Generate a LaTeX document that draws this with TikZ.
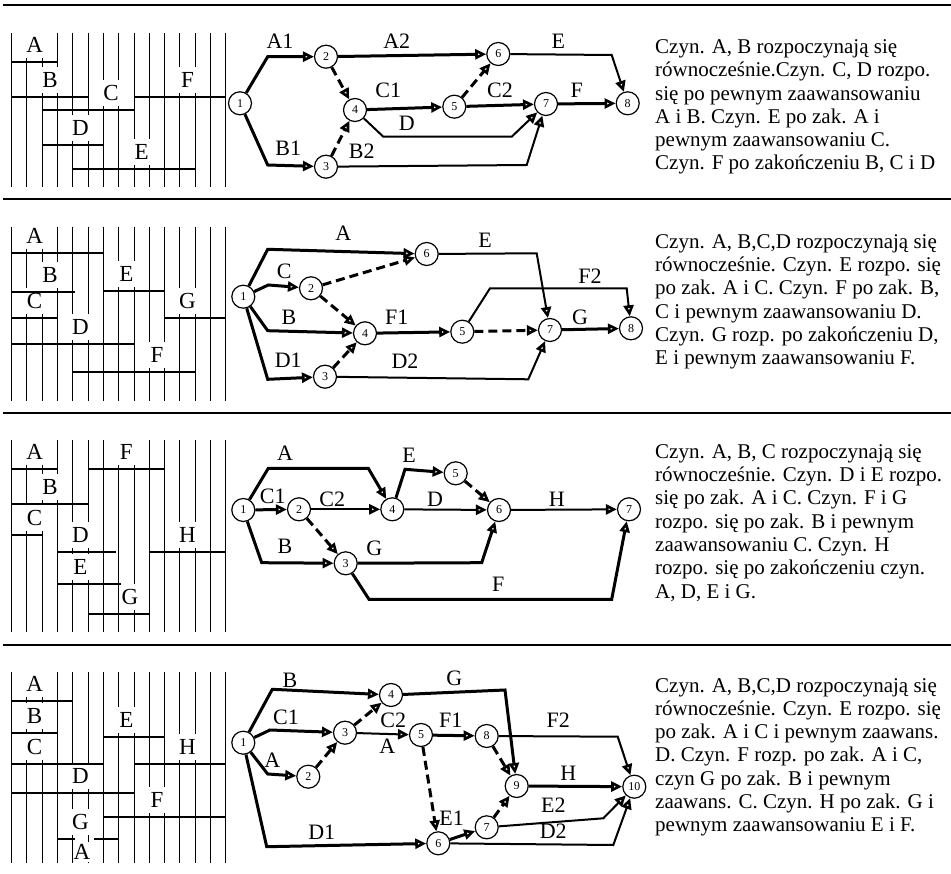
\documentclass[tikz,border=0pt]{standalone}
\usepackage{fontspec}
\setmainfont{Liberation Serif}
\usetikzlibrary{arrows.meta}
\begin{document}
\begin{tikzpicture}[x=1pt,y=-1pt,
 nd/.style={circle,draw,line width=1.2pt,fill=white,minimum size=23pt,inner sep=0pt,font=\fontsize{12}{12}\selectfont},
 lb/.style={font=\fontsize{22}{22}\selectfont,inner sep=0pt},
 gl/.style={fill=white,inner sep=0pt,minimum width=19pt,minimum height=26pt,font=\fontsize{23}{23}\selectfont},
 tip/.style={-{Triangle[open,length=11pt,width=10pt,line width=2.6pt]}},
 thk/.style={line width=3pt,tip},
 thn/.style={line width=2pt,tip},
 dsh/.style={thk,dash pattern=on 9pt off 5pt},
 bar/.style={line width=1.9pt},
 vl/.style={line width=1pt},
 txt/.style={font=\fontsize{21}{23.3}\selectfont,anchor=base west,inner sep=0pt}
]
\useasboundingbox[fill=white] (0,0) rectangle (951,874);

% separators
\draw[line width=2.7pt] (3,5) -- (951,5);
\draw[line width=2pt] (3,199) -- (951,199);
\draw[line width=2pt] (3,413.5) -- (951,413.5);
\draw[line width=2pt] (3,645) -- (951,645);

% ---------- grids: vertical lines ----------
\foreach \i in {0,...,14}{
  \draw[vl] ({11.7+15.29*\i},33) -- ({11.7+15.29*\i},187);
  \draw[vl] ({11.7+15.29*\i},226.7) -- ({11.7+15.29*\i},401);
  \draw[vl] ({11.7+15.29*\i},440) -- ({11.7+15.29*\i},632);
  \draw[vl] ({11.7+15.29*\i},671.7) -- ({11.7+15.29*\i},863.3);
}

% ---------- grid labels ----------
% panel 1
\node[gl] (g1A) at (34.64,44.7) {A};
\node[gl] (g1B) at (49.93,79.7) {B};
\node[gl] (g1C) at (111.09,93) {C};
\node[gl] (g1F) at (187.54,79.7) {F};
\node[gl] (g1D) at (80.51,128) {D};
\node[gl] (g1E) at (141.67,152.3) {E};
% panel 2
\node[gl] (g2A) at (34.64,236.3) {A};
\node[gl] (g2B) at (49.93,274.7) {B};
\node[gl] (g2E) at (126.38,274) {E};
\node[gl] (g2C) at (34.64,301.3) {C};
\node[gl] (g2G) at (187.54,301.3) {G};
\node[gl] (g2D) at (80.51,327) {D};
\node[gl] (g2F) at (156.96,354.7) {F};
% panel 3
\node[gl] (g3A) at (34.64,452) {A};
\node[gl] (g3F) at (126.38,452) {F};
\node[gl] (g3B) at (49.93,487) {B};
\node[gl] (g3C) at (34.64,518) {C};
\node[gl] (g3D) at (80.51,534.7) {D};
\node[gl] (g3H) at (187.54,534.7) {H};
\node[gl] (g3E) at (80.51,567.3) {E};
\node[gl] (g3G) at (130,597) {G};
% panel 4
\node[gl] (g4A) at (34.64,683.7) {A};
\node[gl] (g4B) at (34.64,716.3) {B};
\node[gl] (g4C) at (34.64,747) {C};
\node[gl] (g4E) at (126.38,719.7) {E};
\node[gl] (g4H) at (187.54,747) {H};
\node[gl] (g4D) at (80.51,775.7) {D};
\node[gl] (g4F) at (156.96,799.7) {F};
\node[gl] (g4G) at (80.51,822) {G};
\node[gl,minimum height=20pt,minimum width=17pt] (g4A2) at (82,851.5) {A};

% ---------- grid bars ----------
% panel 1
\draw[bar] (11.7,61.7) -- (57.57,61.7);
\draw[bar] (11.7,96.7) -- (88.15,96.7);
\draw[bar] (42.28,110) -- (134.02,110);
\draw[bar] (134.02,96.7) -- (225.76,96.7);
\draw[bar] (42.28,145) -- (103.44,145);
\draw[bar] (72.86,169.3) -- (195.18,169.3);
% panel 2
\draw[bar] (11.7,253.3) -- (103.44,253.3);
\draw[bar] (11.7,291.7) -- (75,291.7);
\draw[bar] (103.44,291) -- (164.6,291);
\draw[bar] (11.7,318.3) -- (57.57,318.3);
\draw[bar] (164.6,318.3) -- (225.76,318.3);
\draw[bar] (11.7,344) -- (134.02,344);
\draw[bar] (72.86,371.7) -- (195.18,371.7);
% panel 3
\draw[bar] (11.7,469) -- (57.57,469);
\draw[bar] (88.15,469) -- (164.6,469);
\draw[bar] (11.7,504) -- (88.15,504);
\draw[bar] (11.7,535) -- (43,535);
\draw[bar] (57.57,551.7) -- (116,551.7);
\draw[bar] (149.3,551.7) -- (225.76,551.7);
\draw[bar] (57.57,584.3) -- (120.7,584.3);
\draw[bar] (88.15,614) -- (149.3,614);
% panel 4
\draw[bar] (11.7,700.7) -- (72.86,700.7);
\draw[bar] (11.7,733.3) -- (57.57,733.3);
\draw[bar] (11.7,764) -- (103.44,764);
\draw[bar] (103.44,736.7) -- (164.6,736.7);
\draw[bar] (134.02,764) -- (225.76,764);
\draw[bar] (11.7,792.7) -- (134.02,792.7);
\draw[bar] (103.44,816.7) -- (225.76,816.7);
\draw[bar] (57.57,839) -- (75,839);
\draw[bar] (94,839) -- (117.7,839);

% ---------- network 1 ----------
\node[nd] (a1) at (240,103.3) {1};
\node[nd] (a2) at (326,56.7) {2};
\node[nd] (a3) at (326,166.7) {3};
\node[nd] (a4) at (355,110) {4};
\node[nd] (a5) at (454.3,106.7) {5};
\node[nd] (a6) at (498.3,54) {6};
\node[nd] (a7) at (546,104) {7};
\node[nd] (a8) at (627.7,103.3) {8};
\draw[thk] (a1) -- (267.7,56.7) -- (a2);
\draw[thk] (a1) -- (267.7,165) -- (a3);
\draw[thk] (a2) -- (a6);
\draw[dsh] (a2) -- (a4);
\draw[dsh] (a3) -- (a4);
\draw[thk] (a4) -- (a5);
\draw[dsh] (a5) -- (a6);
\draw[thk] (a5) -- (a7);
\draw[thn] (a4) -- (383.3,136.7) -- (511.7,136.7) -- (a7);
\draw[thn] (a3) -- (526.7,165) -- (a7);
\draw[thn] (a6) -- (611.7,55) -- (a8);
\draw[thk] (a7) -- (a8);
\node[lb] (la1) at (280,41.7) {A1};
\node[lb] (lb1) at (288.3,148.3) {B1};
\node[lb] (la2) at (396.7,41.7) {A2};
\node[lb] (lb2) at (361.7,151.7) {B2};
\node[lb] (lc1) at (388.3,90) {C1};
\node[lb] (lc2) at (500,90) {C2};
\node[lb] (ld) at (406.7,123.3) {D};
\node[lb] (le) at (558.3,41.7) {E};
\node[lb] (lf) at (576.7,90) {F};

% ---------- network 2 ----------
\node[nd] (b1) at (243.3,296.7) {1};
\node[nd] (b2) at (311,288.3) {2};
\node[nd] (b3) at (325,376.7) {3};
\node[nd] (b4) at (365,333.3) {4};
\node[nd] (b5) at (462.3,331.7) {5};
\node[nd] (b6) at (426.7,254) {6};
\node[nd] (b7) at (550,330) {7};
\node[nd] (b8) at (631,328.3) {8};
\draw[thk] (b1) -- (267.7,249.3) -- (b6);
\draw[thk] (b1) -- (268.3,285) -- (b2);
\draw[thk] (b1) -- (267.7,330.7) -- (b4);
\draw[thk] (b1) -- (267.7,379.3) -- (b3);
\draw[dsh] (b2) -- (b6);
\draw[dsh] (b2) -- (b4);
\draw[dsh] (b3) -- (b4);
\draw[thk] (b4) -- (b5);
\draw[dsh] (b5) -- (b7);
\draw[thn] (b5) -- (490,288.3) -- (626.7,288.3) -- (b8);
\draw[thn] (b6) -- (536.7,253.3) -- (b7);
\draw[thn] (b3) -- (528.3,379.3) -- (b7);
\draw[thk] (b7) -- (b8);
\node[lb] (mA) at (343.3,233.3) {A};
\node[lb] (mC) at (284.3,271.7) {C};
\node[lb] (mB) at (289,317.3) {B};
\node[lb] (mD1) at (288.3,360.7) {D1};
\node[lb] (mF1) at (396.7,317.3) {F1};
\node[lb] (mF2) at (590,276) {F2};
\node[lb] (mE) at (485,240) {E};
\node[lb] (mD2) at (405,361.7) {D2};
\node[lb] (mG) at (580,317.3) {G};

% ---------- network 3 ----------
\node[nd] (c1) at (243.3,510) {1};
\node[nd] (c2) at (299,509.3) {2};
\node[nd] (c3) at (345.7,563.3) {3};
\node[nd] (c4) at (392.3,509.3) {4};
\node[nd] (c5) at (455.7,473.3) {5};
\node[nd] (c6) at (499,510) {6};
\node[nd] (c7) at (629,509.3) {7};
\draw[thk] (c1) -- (268.3,468.3) -- (368.3,468.3) -- (c4);
\draw[thk] (c1) -- (c2);
\draw[thn] (c2) -- (c4);
\draw[dsh] (c2) -- (c3);
\draw[thk] (c1) -- (261.7,562.7) -- (c3);
\draw[thk] (c4) -- (405,469.3) -- (c5);
\draw[dsh] (c5) -- (c6);
\draw[thn] (c4) -- (c6);
\draw[thk] (c3) -- (481.7,562.7) -- (c6);
\draw[thk] (c3) -- (369,599.3) -- (611.7,599.3) -- (c7);
\draw[thn] (c6) -- (c7);
\node[lb] (nA) at (285,453.3) {A};
\node[lb] (nC1) at (272.7,496) {C1};
\node[lb] (nC2) at (332.3,499.3) {C2};
\node[lb] (nB) at (285,546.7) {B};
\node[lb] (nE) at (409,455) {E};
\node[lb] (nD) at (435,499.3) {D};
\node[lb] (nG) at (374.3,548.3) {G};
\node[lb] (nF) at (498.3,584) {F};
\node[lb] (nH) at (556.7,499.3) {H};

% ---------- network 4 ----------
\node[nd] (d1) at (243.3,742.7) {1};
\node[nd] (d2) at (308.3,776.7) {2};
\node[nd] (d3) at (345,732.7) {3};
\node[nd] (d4) at (391,695) {4};
\node[nd] (d5) at (421,735) {5};
\node[nd] (d6) at (438.3,843.3) {6};
\node[nd] (d7) at (486.7,827.3) {7};
\node[nd] (d8) at (486.7,736) {8};
\node[nd] (d9) at (516.7,786) {9};
\node[nd] (d10) at (634.3,786.7) {10};
\draw[thk] (d1) -- (272.3,689.3) -- (d4);
\draw[thk] (d1) -- (270,730) -- (d3);
\draw[thk] (d1) -- (267.7,774) -- (d2);
\draw[dsh] (d2) -- (d3);
\draw[dsh] (d3) -- (d4);
\draw[thn] (d3) -- (d5);
\draw[thk] (d5) -- (d8);
\draw[dsh] (d5) -- (d6);
\draw[thk] (d4) -- (505,690) -- (d9);
\draw[dsh] (d8) -- (d9);
\draw[thn] (d8) -- (617.7,736.7) -- (d10);
\draw[thk] (d9) -- (d10);
\draw[thk] (d6) -- (d7);
\draw[dsh] (d7) -- (d9);
\draw[thn] (d7) -- (603.3,818.3) -- (d10);
\draw[thk] (d1) -- (266.7,846.7) -- (d6);
\draw[thn] (d6) -- (613.3,845) -- (d10);
\node[lb] (oB) at (290,680) {B};
\node[lb] (oC1) at (286,717.3) {C1};
\node[lb] (oA) at (272.3,760.7) {A};
\node[lb] (oC2) at (393.3,720) {C2};
\node[lb] (oA2) at (387.3,746.7) {A};
\node[lb] (oF1) at (450.7,720) {F1};
\node[lb] (oG) at (454.3,678.3) {G};
\node[lb] (oF2) at (558.3,720) {F2};
\node[lb] (oH) at (568.3,773.3) {H};
\node[lb] (oE1) at (451.7,818.3) {E1};
\node[lb] (oE2) at (553.3,805) {E2};
\node[lb] (oD1) at (321.7,832.7) {D1};
\node[lb] (oD2) at (553.3,831.7) {D2};

% ---------- texts ----------
\foreach \t [count=\k from 0] in {{Czyn. A, B rozpoczynają się},{równocześnie.Czyn. C, D rozpo.},{się po pewnym zaawansowaniu},{A i B. Czyn. E po zak. A i},{pewnym zaawansowaniu C.},{Czyn. F po zakończeniu B, C i D}}
  \node[txt] (t1-\k) at (655,{53.5+23.3*\k}) {\t};
\foreach \t [count=\k from 0] in {{Czyn. A, B,C,D rozpoczynają się},{równocześnie. Czyn. E rozpo. się},{po zak. A i C. Czyn. F po zak. B,},{C i pewnym zaawansowaniu D.},{Czyn. G rozp. po zakończeniu D,},{E i pewnym zaawansowaniu F.}}
  \node[txt] (t2-\k) at (655,{248.3+23.3*\k}) {\t};
\foreach \t [count=\k from 0] in {{Czyn. A, B, C rozpoczynają się},{równocześnie. Czyn. D i E rozpo.},{się po zak. A i C. Czyn. F i G},{rozpo. się po zak. B i pewnym},{zaawansowaniu C. Czyn. H},{rozpo. się po zakończeniu czyn.},{A, D, E i G.}}
  \node[txt] (t3-\k) at (655,{458.3+23.3*\k}) {\t};
\foreach \t [count=\k from 0] in {{Czyn. A, B,C,D rozpoczynają się},{równocześnie. Czyn. E rozpo. się},{po zak. A i C i pewnym zaawans.},{D. Czyn. F rozp. po zak. A i C,},{czyn G po zak. B i pewnym},{zaawans. C. Czyn. H po zak. G i},{pewnym zaawansowaniu E i F.}}
  \node[txt] (t4-\k) at (655,{692+23.3*\k}) {\t};
\end{tikzpicture}
\end{document}
